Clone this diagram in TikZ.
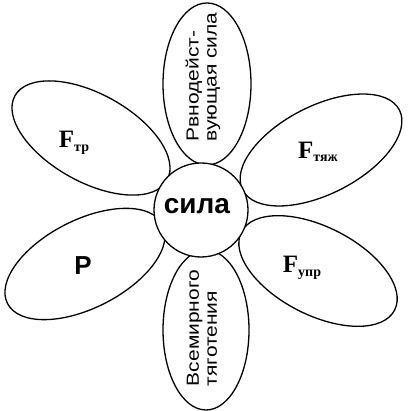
\documentclass[tikz,border=0pt]{standalone}
\usepackage{fontspec}
\setmainfont{Liberation Sans}
\newfontfamily\serifcyr{Liberation Serif}
\usetikzlibrary{calc}

\tikzset{
  petal/.style={draw, line width=1.3pt},
  forcelbl/.style={font=\serifcyr\bfseries\fontsize{25}{25}\selectfont},
  longlbl/.style={font=\fontsize{17.5}{18}\selectfont, align=left, rotate=90, xscale=1.2},
}

\begin{document}
\begin{tikzpicture}[x=1pt,y=1pt]
    \useasboundingbox (0,0) rectangle (409,411);
    % petals
    \path[petal, rotate around={90:(207,327)}](207,327) ellipse (81 and 44);
    \path[petal, rotate around={90:(206,81)}](206,81) ellipse (80 and 43);
    \path[petal, rotate around={27:(321,261)}](321,261) ellipse (88 and 44);
    \path[petal, rotate around={-27:(318,140)}](318,140) ellipse (86 and 44);
    \path[petal, rotate around={-29:(91,273)}](91,273) ellipse (87 and 44);
    \path[petal, rotate around={27:(85,147)}](85,147) ellipse (87 and 44);
    % centre
    \node[circle, draw, line width=1.3pt, fill=white, minimum size=94pt, inner sep=0pt](C)at(201,201){};
    \node[font=\bfseries\fontsize{28}{28}\selectfont](sila)at(197,205){сила};
    % labels
    \node[longlbl](res)at(203,334){Рвнодейст-\\вующая сила};
    \node[longlbl](grav)at(202,83){Всемирного\\тяготения};
    \node[forcelbl](ftr)at(74,268){F\raisebox{-0.3ex}{\fontsize{14}{14}\selectfont тр}};
    \node[forcelbl](ftyazh)at(318,259){F\raisebox{-0.3ex}{\fontsize{14}{14}\selectfont тяж}};
    \node[forcelbl](fupr)at(302,143){F\raisebox{-0.3ex}{\fontsize{14}{14}\selectfont упр}};
    \node[font=\bfseries\fontsize{26}{26}\selectfont](P)at(83,145){P};
\end{tikzpicture}
\end{document}
